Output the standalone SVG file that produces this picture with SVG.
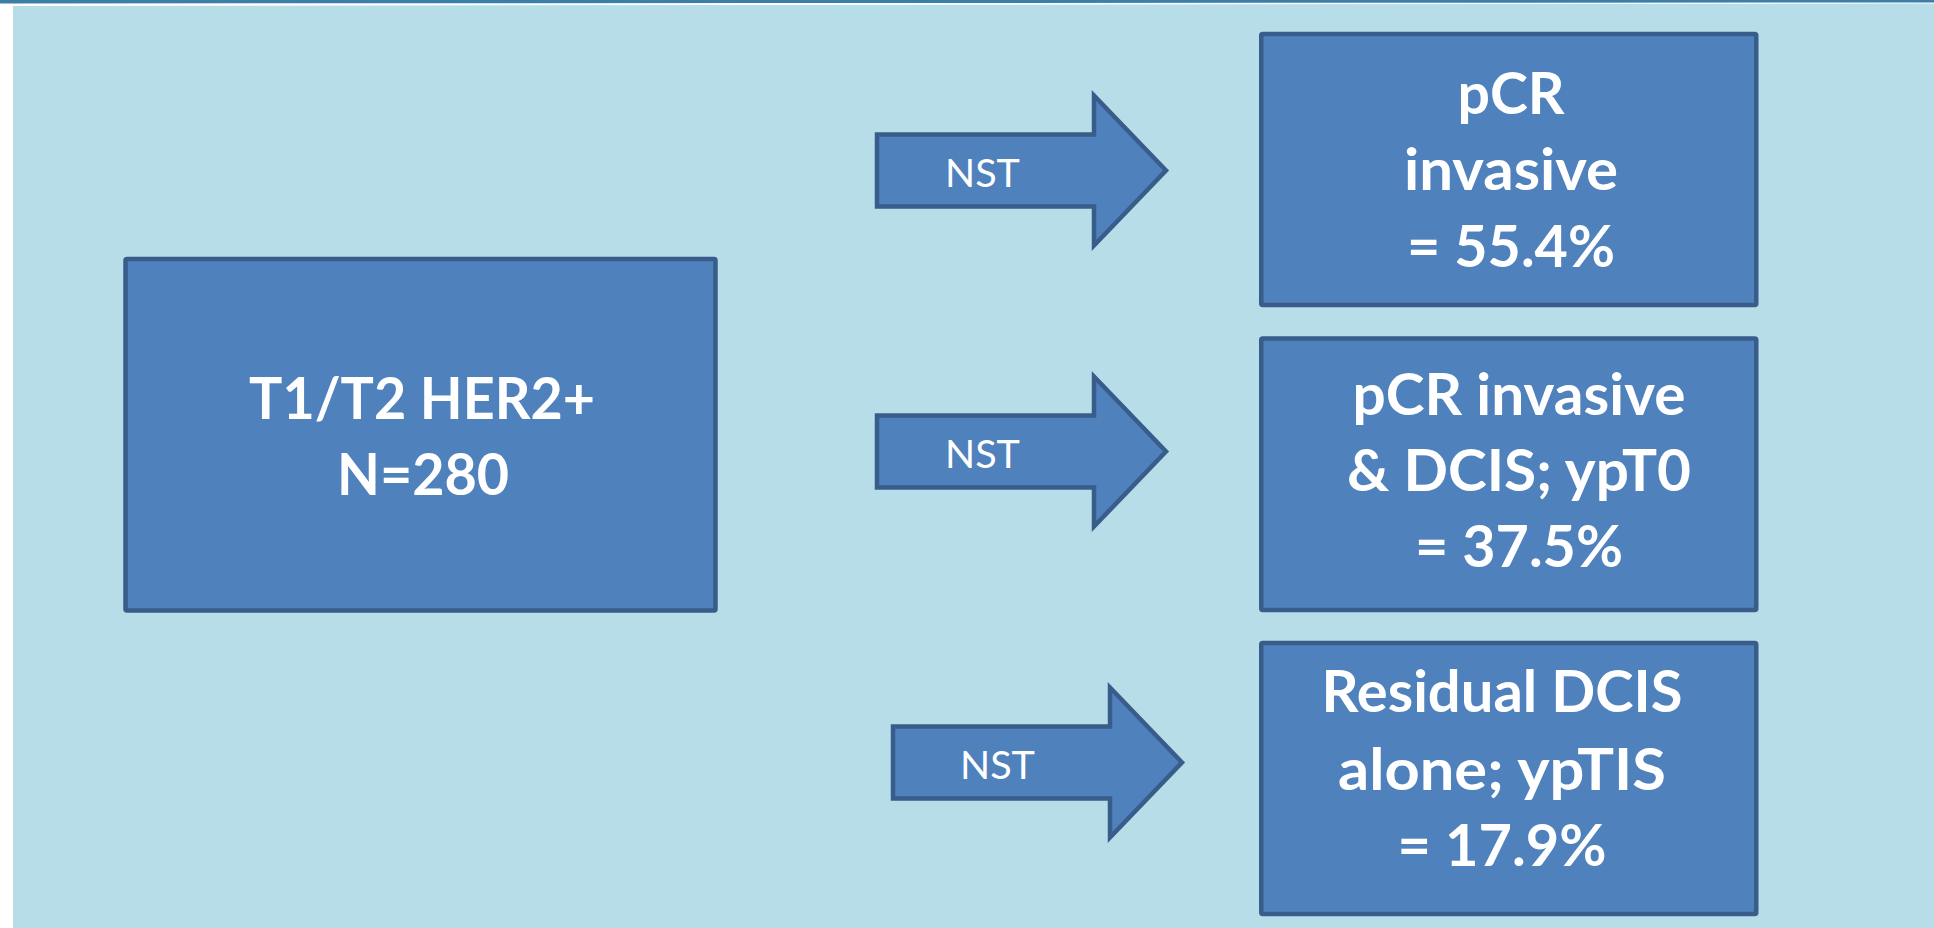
<svg xmlns="http://www.w3.org/2000/svg" width="1934" height="928" viewBox="0 0 1934 928">
  <style>
    .box { fill: #4F81BD; stroke: #385D8A; stroke-width: 4.5; }
    .arrow { fill: #4F81BD; stroke: #385D8A; stroke-width: 4.5; stroke-linejoin: miter; stroke-miterlimit: 10; }
    .big { font-family: Lato, "Liberation Sans", sans-serif; font-weight: bold; font-size: 58px; fill: #FFFFFF; text-anchor: middle; }
    .lbl { font-family: Lato, "Liberation Sans", sans-serif; font-size: 39.5px; fill: #FFFFFF; }
  </style>
  <defs>
    <path id="arrowShape" d="M0,-36 H217 V-75 L289,0 L217,75 V36 H0 Z"/>
  </defs>

  <rect x="0" y="0" width="1934" height="928" fill="#FFFFFF"/>
  <polygon points="0,0 1934,0 1934,2.5 0,3.5" fill="#3C7FA6"/>
  <polygon points="13,6 1934,3.5 1934,928 13,928" fill="#B7DDE8"/>

  <g id="connectors">
    <g id="arrow1">
      <use href="#arrowShape" class="arrow" transform="translate(877,170.5)"/>
      <text class="lbl" x="945" y="186.5">NST</text>
    </g>
    <g id="arrow2">
      <use href="#arrowShape" class="arrow" transform="translate(877,451.5)"/>
      <text class="lbl" x="945" y="468">NST</text>
    </g>
    <g id="arrow3">
      <use href="#arrowShape" class="arrow" transform="translate(893,762.5)"/>
      <text class="lbl" x="960" y="779">NST</text>
    </g>
  </g>

  <g id="node-start">
    <rect class="box" x="125.5" y="259" width="590" height="351.5" rx="1.5"/>
    <text class="big" x="422" y="418.5" textLength="346" lengthAdjust="spacingAndGlyphs">T1/T2 HER2+</text>
    <text class="big" x="423" y="495" textLength="172" lengthAdjust="spacingAndGlyphs">N=280</text>
  </g>

  <g id="node-pcr-invasive">
    <rect class="box" x="1261.25" y="34" width="495" height="271" rx="1.5"/>
    <text class="big" x="1511" y="113.5" textLength="107" lengthAdjust="spacingAndGlyphs">pCR</text>
    <text class="big" x="1511" y="190" textLength="214" lengthAdjust="spacingAndGlyphs">invasive</text>
    <text class="big" x="1511" y="266.5" textLength="208" lengthAdjust="spacingAndGlyphs">= 55.4%</text>
  </g>

  <g id="node-ypt0">
    <rect class="box" x="1261.25" y="338.5" width="495" height="271.5" rx="1.5"/>
    <text class="big" x="1519" y="414.5" textLength="333" lengthAdjust="spacingAndGlyphs">pCR invasive</text>
    <text class="big" x="1519" y="490.5" textLength="344" lengthAdjust="spacingAndGlyphs">&amp; DCIS; ypT0</text>
    <text class="big" x="1519" y="567" textLength="208" lengthAdjust="spacingAndGlyphs">= 37.5%</text>
  </g>

  <g id="node-yptis">
    <rect class="box" x="1261.25" y="643" width="495" height="271" rx="1.5"/>
    <text class="big" x="1502" y="711.5" textLength="361" lengthAdjust="spacingAndGlyphs">Residual DCIS</text>
    <text class="big" x="1502" y="789.5" textLength="328" lengthAdjust="spacingAndGlyphs">alone; ypTIS</text>
    <text class="big" x="1502" y="866" textLength="209" lengthAdjust="spacingAndGlyphs">= 17.9%</text>
  </g>
</svg>
